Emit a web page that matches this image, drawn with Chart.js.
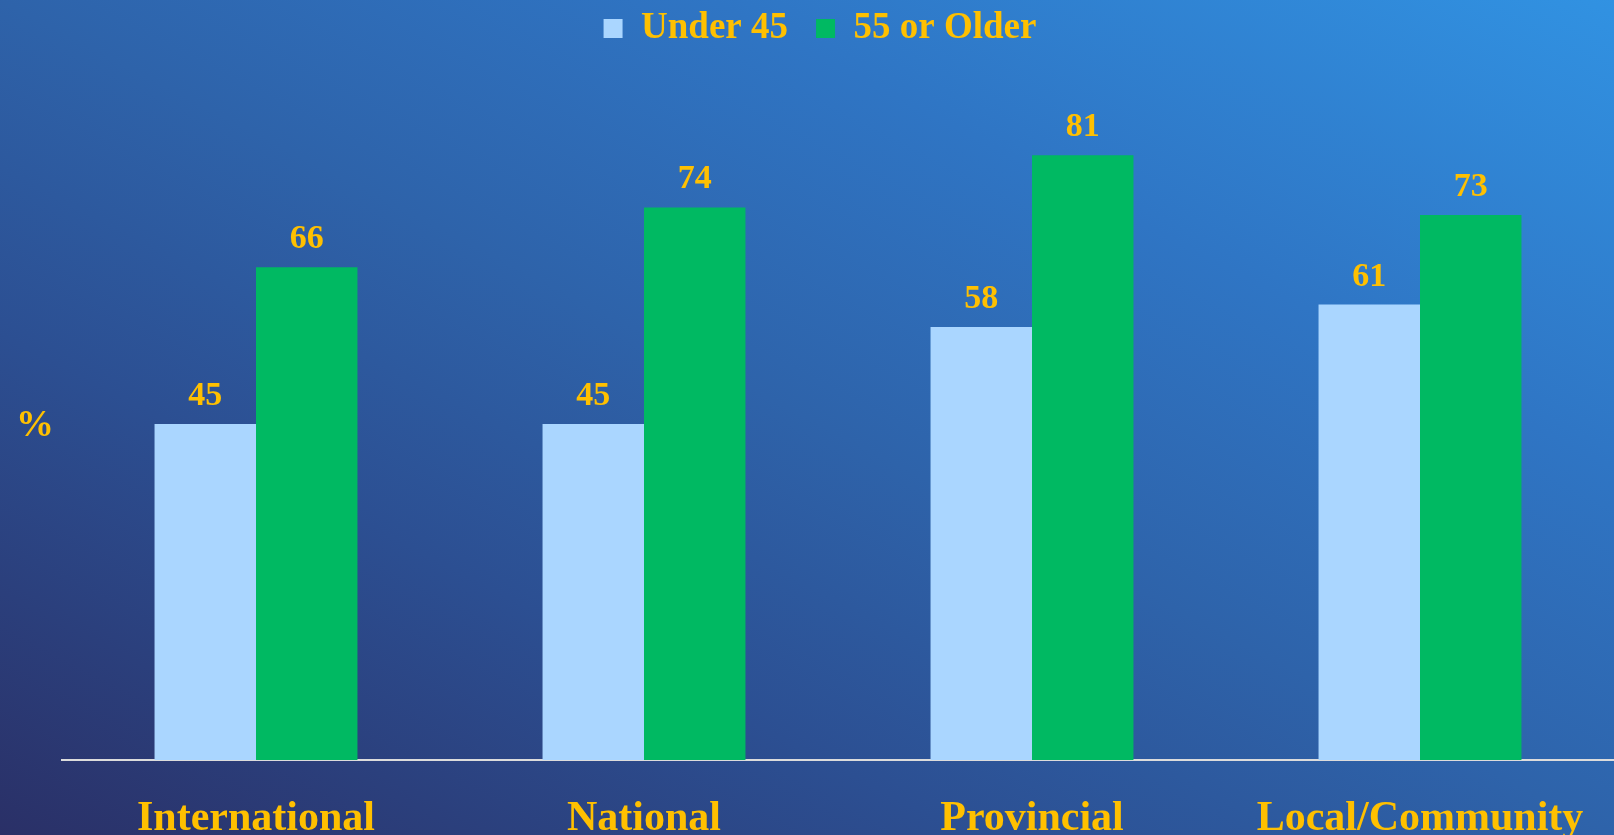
<!DOCTYPE html>
<html>
<head>
<meta charset="utf-8">
<script src="https://cdn.jsdelivr.net/npm/chart.js@4.4.0/dist/chart.umd.min.js"></script>
<style>
  html, body { margin: 0; padding: 0; }
  #wrap {
    width: 1614px;
    height: 835px;
    background: linear-gradient(to top right, #2a3067 0%, #2c4f92 30%, #2e63aa 50%, #2f75c4 72%, #3192e2 100%);
  }
</style>
</head>
<body>
<div id="wrap"><canvas id="chart" width="1614" height="835"></canvas></div>
<script>
const categories = ["International", "National", "Provincial", "Local/Community"];
const under45 = [45, 45, 58, 61];
const olderThan55 = [66, 74, 81, 73];
const seriesNames = ["Under 45", "55 or Older"];

const GOLD = "#FFC000";
const SERIF = "'Liberation Serif', 'Times New Roman', serif";

// fixed legend band on top, legend nudged up and a bit left
const legendBand = {
  id: "legendBand",
  beforeInit(chart) {
    const fit = chart.legend.fit;
    chart.legend.fit = function () {
      fit.bind(chart.legend)();
      this.height = 88;
    };
  },
  afterLayout(chart) {
    const lg = chart.legend;
    lg.left -= 18;
    lg.right -= 18;
    lg.top -= 18;
    lg.bottom -= 18;
  },
};

// value labels above each bar + the lone "%" on the left
const barLabels = {
  id: "barLabels",
  afterDatasetsDraw(chart) {
    const ctx = chart.ctx;
    ctx.save();
    ctx.fillStyle = GOLD;
    ctx.font = "bold 34px " + SERIF;
    ctx.textAlign = "center";
    ctx.textBaseline = "alphabetic";
    chart.data.datasets.forEach((ds, i) => {
      chart.getDatasetMeta(i).data.forEach((bar, j) => {
        ctx.fillText(ds.data[j], bar.x, bar.y - 19);
      });
    });
    ctx.font = "bold 38px " + SERIF;
    ctx.textAlign = "left";
    ctx.fillText("%", 16, 436);
    ctx.restore();
  },
};

new Chart(document.getElementById("chart"), {
  type: "bar",
  data: {
    labels: categories,
    datasets: [
      {
        label: seriesNames[0],
        data: under45,
        backgroundColor: "#AAD6FF",
        borderWidth: 0,
      },
      {
        label: seriesNames[1],
        data: olderThan55,
        backgroundColor: "#00B962",
        borderWidth: 0,
      },
    ],
  },
  options: {
    responsive: false,
    animation: false,
    layout: { padding: { left: 62, right: 0, top: 0, bottom: 0 } },
    datasets: {
      bar: { categoryPercentage: 0.523, barPercentage: 1.0 },
    },
    scales: {
      x: {
        grid: { display: false, drawTicks: false },
        border: { color: "#dcdcdc", width: 2 },
        ticks: {
          color: GOLD,
          font: { family: SERIF, size: 42, weight: "bold" },
          padding: 34,
          maxRotation: 0,
        },
        // labels run off the bottom edge like in the slide
        afterFit(scale) {
          scale.height = 75;
          scale.paddingLeft = 0;
          scale.paddingRight = 0;
        },
      },
      y: {
        display: false,
        min: 0,
        max: 90,
      },
    },
    plugins: {
      legend: {
        position: "top",
        labels: {
          color: GOLD,
          font: { family: SERIF, size: 37, weight: "bold" },
          boxWidth: 19,
          boxHeight: 19,
          padding: 28,
        },
      },
      tooltip: { enabled: false },
    },
  },
  plugins: [legendBand, barLabels],
});
</script>
</body>
</html>
